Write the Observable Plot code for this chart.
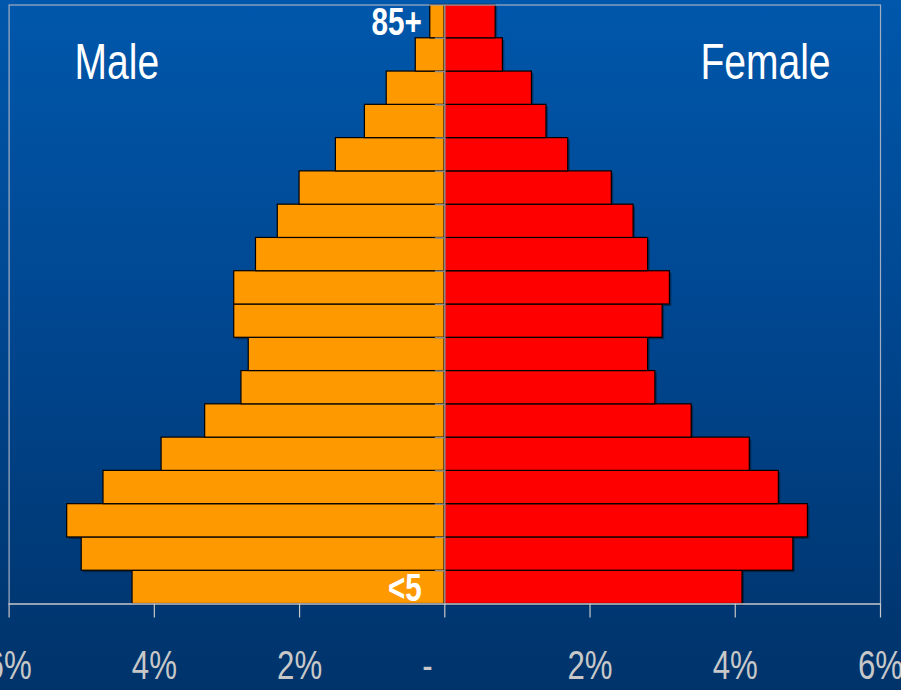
<!DOCTYPE html>
<html>
<head>
<meta charset="utf-8">
<script src="https://cdn.jsdelivr.net/npm/d3@7"></script>
<script src="https://cdn.jsdelivr.net/npm/@observablehq/plot@0.6"></script>
<style>
  html, body { margin: 0; padding: 0; }
  body {
    width: 901px; height: 690px; overflow: hidden;
    background: linear-gradient(to bottom, #0057ab 0%, #004791 45%, #00336a 100%);
    font-family: "Liberation Sans", Arial, sans-serif;
  }
  #chart svg { display: block; }
</style>
</head>
<body>
<div id="chart"></div>
<script>
// Age groups from youngest (bottom) to oldest (top)
const ageGroups = ["<5","5-9","10-14","15-19","20-24","25-29","30-34","35-39","40-44","45-49","50-54","55-59","60-64","65-69","70-74","75-79","80-84","85+"];
// Percent of total population
const malePct   = [4.3, 5.0, 5.2, 4.7, 3.9, 3.3, 2.8, 2.7, 2.9, 2.9, 2.6, 2.3, 2.0, 1.5, 1.1, 0.8, 0.4, 0.2];
const femalePct = [4.1, 4.8, 5.0, 4.6, 4.2, 3.4, 2.9, 2.8, 3.0, 3.1, 2.8, 2.6, 2.3, 1.7, 1.4, 1.2, 0.8, 0.7];
const shownAgeLabels = ["<5", "85+"];
const xTicks = [-6, -4, -2, 0, 2, 4, 6];
const sexLabels = ["Male", "Female"];

const rows = ageGroups.map((age, i) => ({age, i, male: malePct[i], female: femalePct[i]}));
const boundaries = d3.range(1, ageGroups.length);
const labelRows = rows.filter(r => shownAgeLabels.includes(r.age));

const FONT = `"Liberation Sans", Arial, sans-serif`;

const chart = Plot.plot({
  width: 901,
  height: 690,
  marginLeft: 8.6,
  marginRight: 21,
  marginTop: 4.5,
  marginBottom: 86.5,
  style: {background: "transparent", fontFamily: FONT, overflow: "visible"},
  x: {domain: [-6, 6]},
  y: {domain: [0, ageGroups.length], axis: null},
  marks: [
    // shadows
    Plot.rectX(rows, {x1: d => -d.male, x2: 0, y1: "i", y2: d => d.i + 1, fill: "#000", fillOpacity: 0.35, dx: 2, dy: 2}),
    Plot.rectX(rows, {x1: 0, x2: "female", y1: "i", y2: d => d.i + 1, fill: "#000", fillOpacity: 0.35, dx: 2, dy: 2}),
    // bars
    Plot.rectX(rows, {x1: d => -d.male, x2: 0, y1: "i", y2: d => d.i + 1, fill: "#ff9900", stroke: "#000", strokeWidth: 1.2}),
    Plot.rectX(rows, {x1: 0, x2: "female", y1: "i", y2: d => d.i + 1, fill: "#ff0000", stroke: "#000", strokeWidth: 1.2}),
    // frame
    Plot.frame({stroke: "#a3aec2", strokeWidth: 1.2}),
    // central axis
    Plot.ruleX([0], {stroke: "#8c8c8c", strokeWidth: 1.5}),
    Plot.ruleY(boundaries, {x1: -0.13, x2: 0, stroke: "#8c8c8c", strokeWidth: 1.5}),
    // x axis
    Plot.ruleY([0], {stroke: "#c8c8c8", strokeWidth: 1.2}),
    Plot.axisX({
      ticks: xTicks,
      tickFormat: d => d === 0 ? "-\u00a0\u00a0\u00a0\u00a0" : Math.abs(d) + "%",
      tickSize: 14,
      tickPadding: 33,
      stroke: "#c8c8c8",
      strokeWidth: 1.2,
      color: "#c8c8c8",
      fontSize: 40,
      label: null
    }),
    // age labels
    Plot.text(labelRows, {
      x: 0, y: d => d.i + 0.5, text: "age",
      textAnchor: "end", dx: -23, dy: 1,
      fill: "white", fontSize: 38, fontWeight: "bold", fontFamily: FONT
    }),
    // sex labels
    Plot.text([sexLabels[0]], {
      text: d => d, frameAnchor: "top-left", textAnchor: "start", lineAnchor: "middle",
      dx: 65.5, dy: 58, fill: "white", fontSize: 50, fontFamily: FONT
    }),
    Plot.text([sexLabels[1]], {
      text: d => d, frameAnchor: "top-right", textAnchor: "end", lineAnchor: "middle",
      dx: -50, dy: 58, fill: "white", fontSize: 50, fontFamily: FONT
    })
  ]
});
document.getElementById("chart").appendChild(chart);

// Condense all labels horizontally (narrow sans look of the original)
chart.querySelectorAll("text").forEach(t => {
  const len = t.getComputedTextLength();
  if (len > 0) {
    t.setAttribute("textLength", (len * 0.78).toFixed(2));
    t.setAttribute("lengthAdjust", "spacingAndGlyphs");
  }
});
</script>
</body>
</html>
